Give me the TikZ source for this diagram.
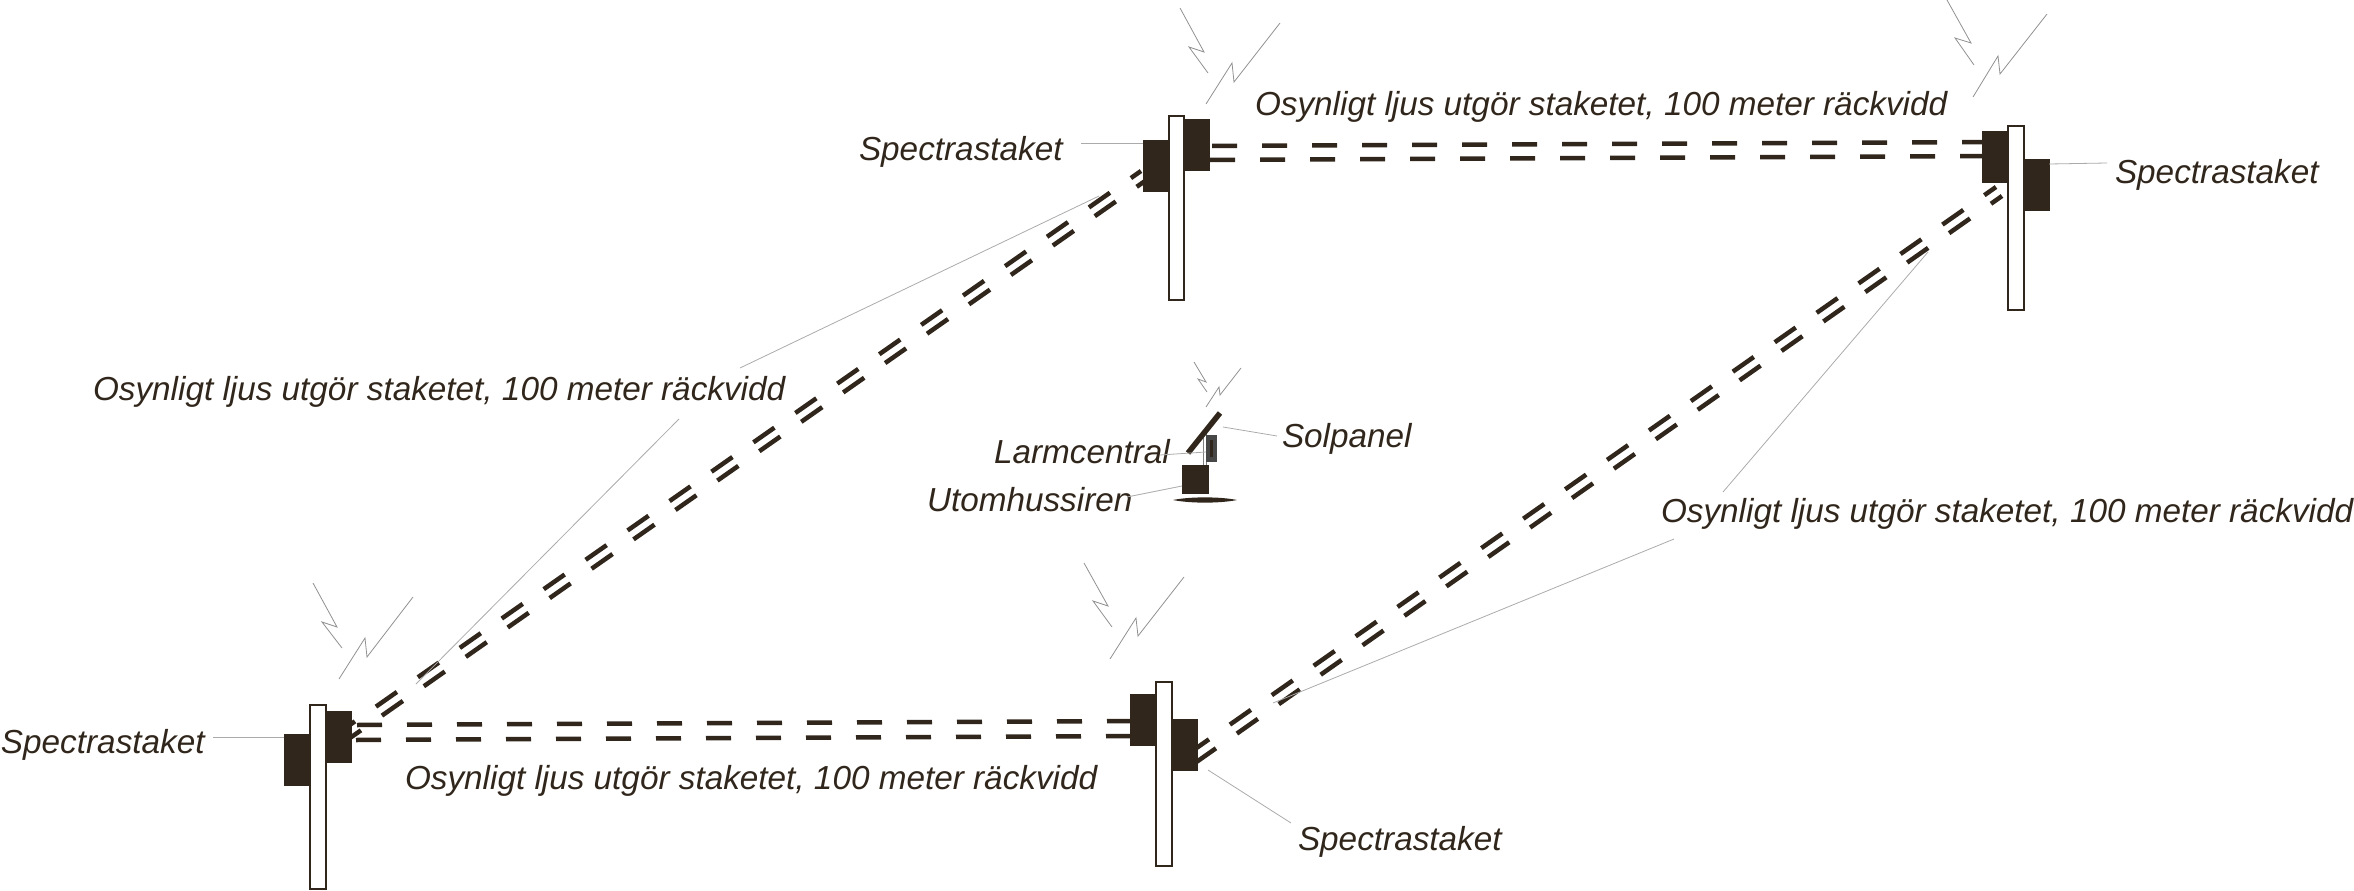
\documentclass[tikz,border=0pt]{standalone}
\usepackage{fontspec}
\setmainfont{Liberation Sans}
\definecolor{ink}{HTML}{30261B}
\definecolor{leaderc}{HTML}{ABABAB}
\tikzset{
  every node/.style={inner sep=0pt,outer sep=0pt},
  post/.style={draw=ink,line width=2pt,fill=white,minimum width=15.5pt,minimum height=184pt},
  unit/.style={fill=ink,minimum width=25pt,minimum height=52pt},
  beamh/.style={draw=ink,line width=4.5pt,dash pattern=on 25pt off 25pt},
  beamd/.style={draw=ink,line width=4.5pt,dash pattern=on 25.6pt off 25.6pt},
  leader/.style={draw=leaderc,line width=0.8pt},
  bolt/.style={draw=leaderc!85!black,line width=0.8pt,line join=miter},
  label/.style={anchor=base west,text=ink,font=\fontsize{33.3}{40}\selectfont\itshape},
}
\begin{document}
\begin{tikzpicture}[x=1pt,y=-1pt]
\useasboundingbox (0,0) rectangle (2354,891);
% beam end points
\coordinate (ta1) at (1212,146); \coordinate (tb1) at (1210,160);
\coordinate (ta2) at (1990,142); \coordinate (tb2) at (1990,156);
\coordinate (ba1) at (357,725);  \coordinate (bb1) at (356,740);
\coordinate (ba2) at (1135,721); \coordinate (bb2) at (1135,736);
\coordinate (la1) at (334,736);  \coordinate (lb1) at (340,745);
\coordinate (la2) at (1141,171); \coordinate (lb2) at (1145,181);
\coordinate (ra1) at (1188,754); \coordinate (rb1) at (1195,763);
\coordinate (ra2) at (1996,187); \coordinate (rb2) at (2002,196);
% beams
\draw[beamh] (ta1) -- (ta2);
\draw[beamh] (tb1) -- (tb2);
\draw[beamh] (ba1) -- (ba2);
\draw[beamh] (bb1) -- (bb2);
\draw[beamd] (la1) -- (la2);
\draw[beamd] (lb1) -- (lb2);
\draw[beamd] (ra1) -- (ra2);
\draw[beamd] (rb1) -- (rb2);
% top station
\node[unit] (tl) at (1155.5,166) {};
\node[unit] (tr) at (1197.5,145) {};
\node[post] (tp) at (1176.25,207.5) {};
% right station
\node[unit] (rl) at (1994.5,156.5) {};
\node[unit] (rr) at (2037,185) {};
\node[post] (rp) at (2016,218) {};
% bottom left station
\node[unit] (ll) at (296.5,759.5) {};
\node[unit] (lr) at (339,737) {};
\node[post] (lp) at (318,797) {};
% bottom middle station
\node[unit] (ml) at (1142.5,720) {};
\node[unit] (mr) at (1185,745) {};
\node[post] (mp) at (1164,774) {};
% lightning
\draw[bolt] (1180,8)--(1204,52)--(1189,47)--(1208,73);
\draw[bolt] (1206,104)--(1232,63)--(1234,82)--(1280,23);
\draw[bolt] (1947,0)--(1971,43)--(1955,38)--(1974,65);
\draw[bolt] (1973,97)--(1998,56)--(2000,74)--(2047,14);
\draw[bolt] (313,583)--(337,627)--(322,622)--(342,648);
\draw[bolt] (339,679)--(365,638)--(367,657)--(413,597);
\draw[bolt] (1084,563)--(1108,606)--(1093,601)--(1112,627);
\draw[bolt] (1110,659)--(1136,618)--(1138,636)--(1184,577);
\draw[bolt] (1194,362)--(1206,382)--(1198,379)--(1207,392);
\draw[bolt] (1206,407)--(1219,387)--(1220,395)--(1241,368);
% central unit
\draw[draw=gray,line width=0.8pt] (1203,433) -- (1203,466);
\draw[draw=gray,line width=0.8pt] (1206,433) -- (1206,466);
\node[fill=black!72,minimum width=11pt,minimum height=27pt] (ctrl) at (1211.5,448.5) {};
\node[fill=ink,minimum width=3pt,minimum height=17pt] (ctrli) at (1211.5,448.5) {};
\draw[ink,line width=5.5pt] (1188,453) -- (1220,413);
\node[fill=ink,minimum width=27pt,minimum height=29pt] (siren) at (1195.5,479.5) {};
\fill[ink] (1173,500) .. controls (1190,496.5) and (1220,496.5) .. (1237,500)
           .. controls (1220,503.5) and (1190,503.5) .. (1173,500) -- cycle;
% labels
\node[label] (s1) at (859,160) {Spectrastaket};
\node[label] (s2) at (2115,183) {Spectrastaket};
\node[label] (s3) at (1,753) {Spectrastaket};
\node[label] (s4) at (1298,850) {Spectrastaket};
\node[label] (o1) at (1255,115) {Osynligt ljus utgör staketet, 100 meter räckvidd};
\node[label] (o2) at (405,789) {Osynligt ljus utgör staketet, 100 meter räckvidd};
\node[label] (o3) at (93,400) {Osynligt ljus utgör staketet, 100 meter räckvidd};
\node[label] (o4) at (1661,522) {Osynligt ljus utgör staketet, 100 meter räckvidd};
\node[label] (sol) at (1282,447) {Solpanel};
\node[label] (lar) at (994,463) {Larmcentral};
\node[label] (uto) at (927,511) {Utomhussiren};
% leaders
\coordinate (c1) at (1081,143); \coordinate (c2) at (2049,164); \coordinate (c3) at (2107,163);
\coordinate (c4) at (213,737);  \coordinate (c5) at (1208,770); \coordinate (c6) at (1291,823);
\coordinate (c7) at (1099,196); \coordinate (c8) at (740,368);
\coordinate (c9) at (679,419);  \coordinate (c10) at (416,684);
\coordinate (c11) at (1928,252);\coordinate (c12) at (1723,492);
\coordinate (c13) at (1674,539);\coordinate (c14) at (1273,703);
\coordinate (c15) at (1223,427);\coordinate (c16) at (1277,436);
\coordinate (c17) at (1160,455);\coordinate (c18) at (1206,452);
\coordinate (c19) at (1127,497);\coordinate (c20) at (1182,486);
\draw[leader] (c1) -- (tl.north west |- c1);
\draw[leader] (c2) -- (c3);
\draw[leader] (c4) -- (ll.west |- c4);
\draw[leader] (c5) -- (c6);
\draw[leader] (c7) -- (c8);
\draw[leader] (c9) -- (c10);
\draw[leader] (c11) -- (c12);
\draw[leader] (c13) -- (c14);
\draw[leader] (c15) -- (c16);
\draw[leader] (c17) -- (c18);
\draw[leader] (c19) -- (c20);
\end{tikzpicture}
\end{document}
